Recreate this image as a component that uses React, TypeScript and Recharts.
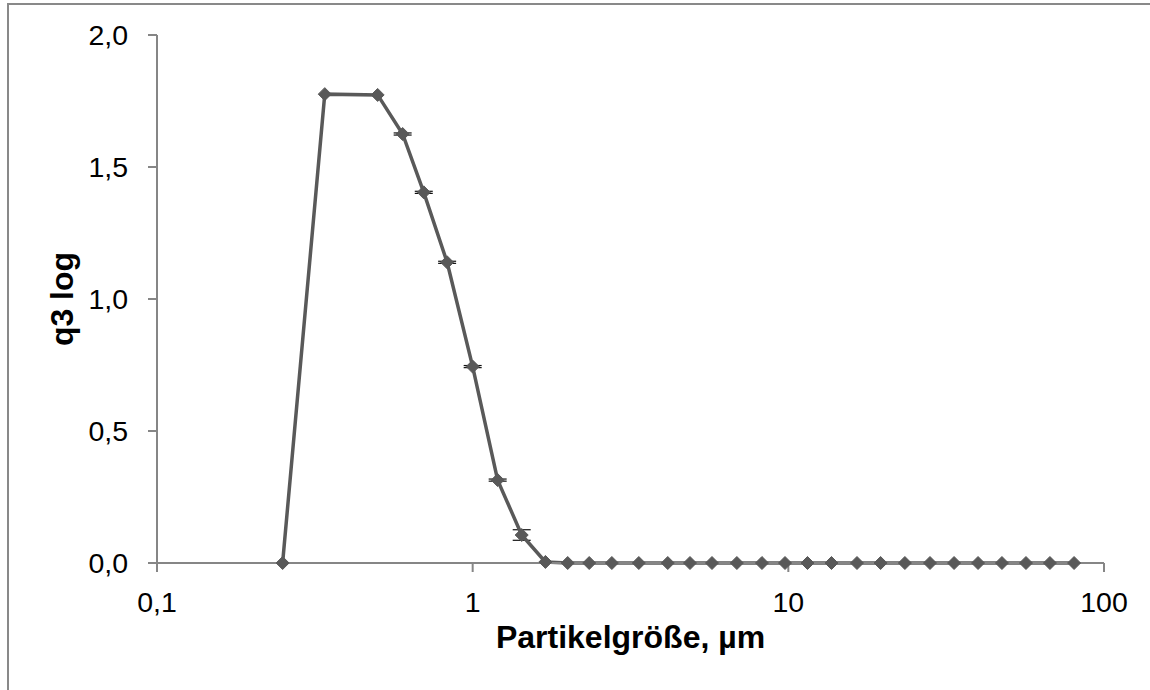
import React from "react";
import { LineChart, Line, XAxis, YAxis, ErrorBar } from "recharts";

const sizes = [
  0.25, 0.34, 0.5, 0.6, 0.7, 0.83, 1.0, 1.2, 1.43, 1.7, 2.0, 2.34, 2.76, 3.36, 4.15, 4.88,
  5.73, 6.87, 8.25, 9.76, 11.5, 13.7, 16.5, 19.6, 23.4, 28.1, 33.5, 39.9, 47.5, 56.6, 67.4, 80.4,
];
const q3Log = [
  0, 1.776, 1.773, 1.625, 1.404, 1.139, 0.744, 0.314, 0.106, 0.004, 0, 0, 0, 0, 0, 0,
  0, 0, 0, 0, 0, 0, 0, 0, 0, 0, 0, 0, 0, 0, 0, 0,
];
const q3Err = [
  0, 0, 0, 0.004, 0.004, 0.004, 0.004, 0.004, 0.02, 0, 0, 0, 0, 0, 0, 0,
  0, 0, 0, 0, 0, 0, 0, 0, 0, 0, 0, 0, 0, 0, 0, 0,
];
const xTicks = [0.1, 1, 10, 100];
const yTicks = [0, 0.5, 1.0, 1.5, 2.0];

const data = sizes.map((x, i) => ({ x, q: q3Log[i], err: q3Err[i] }));

const FONT = "'Liberation Sans', Arial, sans-serif";
const AXIS = "#868686";
const SERIES = "#595959";

const fmtX = (v: number) => String(v).replace(".", ",");
const fmtY = (v: number) => v.toFixed(1).replace(".", ",");

function Diamond(props: any) {
  const { cx, cy, index } = props;
  if (cx == null || cy == null) return <g key={`d${index}`} />;
  const r = 6.5;
  return (
    <path
      key={`d${index}`}
      d={`M${cx},${cy - r}L${cx + r},${cy}L${cx},${cy + r}L${cx - r},${cy}Z`}
      fill={SERIES}
      stroke={SERIES}
      strokeWidth={1}
    />
  );
}

export default function App() {
  return (
    <div style={{ position: "fixed", left: 0, top: 0, width: 1150, height: 690, overflow: "hidden", background: "#fff" }}>
      <div
        style={{
          position: "absolute",
          left: 7,
          top: 3,
          width: 1300,
          height: 900,
          border: "2px solid #898989",
        }}
      />
      <div style={{ position: "absolute", left: 0, top: 0 }}>
        <LineChart
          width={1150}
          height={690}
          data={data}
          margin={{ top: 35, right: 46, left: 57, bottom: 67 }}
        >
          <XAxis
            dataKey="x"
            type="number"
            scale="log"
            domain={[0.1, 100]}
            ticks={xTicks}
            tickFormatter={fmtX}
            allowDataOverflow
            height={60}
            stroke={AXIS}
            strokeWidth={2}
            tickSize={9}
            tickMargin={20}
            tick={{ fill: "#000", fontSize: 28.5, fontFamily: FONT }}
            label={{
              content: (p: any) => {
                const vb = p.viewBox;
                return (
                  <text
                    x={vb.x + vb.width / 2}
                    y={648}
                    textAnchor="middle"
                    fontFamily={FONT}
                    fontWeight="bold"
                    fontSize={32}
                    fill="#000"
                  >
                    Partikelgröße, µm
                  </text>
                );
              },
            }}
          />
          <YAxis
            type="number"
            domain={[0, 2]}
            ticks={yTicks}
            tickFormatter={fmtY}
            width={100}
            stroke={AXIS}
            strokeWidth={2}
            tickSize={9}
            tickMargin={20}
            tick={{ fill: "#000", fontSize: 28.5, fontFamily: FONT }}
            label={{
              content: (p: any) => {
                const vb = p.viewBox;
                const cy = vb.y + vb.height / 2;
                return (
                  <text
                    x={73}
                    y={cy}
                    transform={`rotate(-90 73 ${cy})`}
                    textAnchor="middle"
                    fontFamily={FONT}
                    fontWeight="bold"
                    fontSize={32}
                    fill="#000"
                  >
                    q3 log
                  </text>
                );
              },
            }}
          />
          <Line
            type="linear"
            dataKey="q"
            stroke={SERIES}
            strokeWidth={3.5}
            dot={Diamond}
            activeDot={false}
            isAnimationActive={false}
          >
            <ErrorBar dataKey="err" width={9} stroke="#111" strokeWidth={1.2} isAnimationActive={false} />
          </Line>
        </LineChart>
      </div>
    </div>
  );
}
